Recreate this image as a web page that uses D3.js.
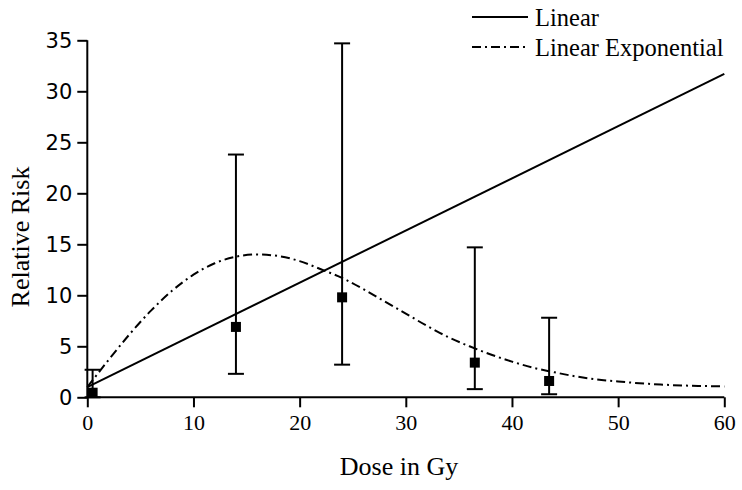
<!DOCTYPE html>
<head>
  <meta charset="utf-8">
  <script src="https://d3js.org/d3.v7.min.js"></script>
  <style type="text/css">
    body { margin: 0; background: #fff; }
    svg { display: block; }
    .serif { font-family: "Liberation Serif", "Times New Roman", serif; }
    .y--axis text { font-family: "DejaVu Sans", Verdana, sans-serif; font-size: 21px; }
    .x--axis text { font-family: "Liberation Serif", "Times New Roman", serif; font-size: 22px; }
  </style>
</head>

<body>
  <script type="text/javascript">
    // observed points: dose, relative risk, lower and upper bound
    var doses = [0.5, 14, 24, 36.5, 43.5];
    var risks = [0.45, 6.9, 9.8, 3.4, 1.6];
    var lower = [0.0, 2.3, 3.2, 0.8, 0.3];
    var upper = [2.7, 23.8, 34.7, 14.7, 7.8];

    // fitted models
    var linearDose = [0, 60];
    var linearRisk = [1.0, 31.7];

    var expDose = [0, 2, 4, 6, 8, 10, 12, 14, 16, 18, 20, 22, 24, 26, 28, 30,
                   32, 34, 36, 38, 40, 42, 44, 46, 48, 50, 52, 54, 56, 58, 60];
    var expRisk = [1.0, 3.66, 6.2, 8.5, 10.46, 12.02, 13.14, 13.79, 14.0, 13.85, 13.35,
                   12.55, 11.7, 10.6, 9.4, 8.2, 7.0, 5.9, 5.0, 4.2, 3.5, 2.9, 2.45,
                   2.05, 1.75, 1.55, 1.38, 1.25, 1.16, 1.11, 1.07];

    var xTicks = [0, 10, 20, 30, 40, 50, 60];
    var yTicks = [0, 5, 10, 15, 20, 25, 30, 35];

    var width = 742, height = 490;

    var svg = d3.select("body").append("svg")
      .attr("width", width)
      .attr("height", height);

    var xScale = d3.scaleLinear().domain([0, 60]).range([87.3, 724.3]);
    var yScale = d3.scaleLinear().domain([0, 35]).range([397.3, 40.3]);

    var line = d3.line()
      .x(function(d) { return xScale(d[0]); })
      .y(function(d) { return yScale(d[1]); });

    // linear exponential curve
    svg.append("path")
      .datum(expDose.map(function(d, i) { return [d, expRisk[i]]; }))
      .attr("fill", "none")
      .attr("stroke", "#000")
      .attr("stroke-width", 2)
      .attr("stroke-dasharray", "9,4,2,4")
      .attr("d", line.curve(d3.curveMonotoneX));

    // linear
    svg.append("path")
      .datum(linearDose.map(function(d, i) { return [d, linearRisk[i]]; }))
      .attr("fill", "none")
      .attr("stroke", "#000")
      .attr("stroke-width", 2)
      .attr("d", line.curve(d3.curveLinear));

    // error bars
    var bars = svg.append("g").selectAll("g")
      .data(doses)
      .enter().append("g");

    bars.append("line")
      .attr("x1", function(d) { return xScale(d); })
      .attr("x2", function(d) { return xScale(d); })
      .attr("y1", function(d, i) { return yScale(lower[i]); })
      .attr("y2", function(d, i) { return yScale(upper[i]); })
      .attr("stroke", "#000").attr("stroke-width", 2);

    bars.append("line")
      .attr("x1", function(d) { return xScale(d) - 8; })
      .attr("x2", function(d) { return xScale(d) + 8; })
      .attr("y1", function(d, i) { return yScale(upper[i]); })
      .attr("y2", function(d, i) { return yScale(upper[i]); })
      .attr("stroke", "#000").attr("stroke-width", 2);

    bars.append("line")
      .attr("x1", function(d) { return xScale(d) - 8; })
      .attr("x2", function(d) { return xScale(d) + 8; })
      .attr("y1", function(d, i) { return yScale(lower[i]); })
      .attr("y2", function(d, i) { return yScale(lower[i]); })
      .attr("stroke", "#000").attr("stroke-width", 2);

    bars.append("rect")
      .attr("x", function(d) { return xScale(d) - 5; })
      .attr("y", function(d, i) { return yScale(risks[i]) - 5; })
      .attr("width", 10)
      .attr("height", 10)
      .attr("fill", "#000");

    // axes
    var xAxis = d3.axisBottom(xScale).tickValues(xTicks).tickSize(10).tickPadding(7);
    var yAxis = d3.axisLeft(yScale).tickValues(yTicks).tickSize(10).tickPadding(5);

    var gx = svg.append("g")
      .attr("class", "x--axis")
      .attr("transform", "translate(0," + yScale(0) + ")")
      .call(xAxis);

    var gy = svg.append("g")
      .attr("class", "y--axis")
      .attr("transform", "translate(" + xScale(0) + ",0)")
      .call(yAxis);

    gx.select(".domain").attr("d", "M" + xScale(0) + ",0H" + xScale(60));
    gy.select(".domain").attr("d", "M0," + yScale(35) + "V" + yScale(0));
    svg.selectAll(".domain").attr("stroke-width", 2);
    svg.selectAll(".tick line").attr("stroke-width", 2);
    svg.selectAll(".tick text").attr("fill", "#000");

    // axis titles
    svg.append("text")
      .attr("class", "serif")
      .attr("x", 399)
      .attr("y", 475)
      .attr("text-anchor", "middle")
      .style("font-size", "26px")
      .text("Dose in Gy");

    svg.append("text")
      .attr("class", "serif")
      .attr("transform", "translate(29,237) rotate(-90)")
      .attr("text-anchor", "middle")
      .style("font-size", "26px")
      .text("Relative Risk");

    // legend
    var legendItems = ["Linear", "Linear Exponential"];
    var legendDash = [null, "9,4,2,4"];

    var legend = svg.append("g").selectAll("g")
      .data(legendItems)
      .enter().append("g")
      .attr("transform", function(d, i) { return "translate(472," + (17 + i * 30) + ")"; });

    legend.append("line")
      .attr("x1", 0).attr("x2", 56)
      .attr("stroke", "#000")
      .attr("stroke-width", 2)
      .attr("stroke-dasharray", function(d, i) { return legendDash[i]; });

    legend.append("text")
      .attr("class", "serif")
      .attr("x", 63)
      .attr("y", 9)
      .style("font-size", "24.5px")
      .text(function(d) { return d; });
  </script>
</body>
